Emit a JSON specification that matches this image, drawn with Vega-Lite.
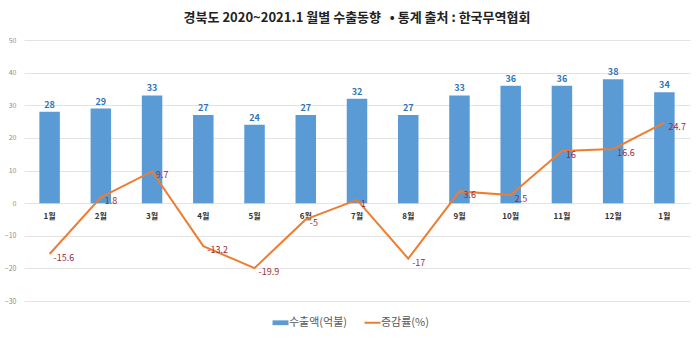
{
  "$schema": "https://vega.github.io/schema/vega-lite/v6.json",
  "width": 699,
  "height": 358,
  "autosize": {"type": "fit", "contains": "padding"},
  "padding": {"left": 4, "right": 9, "top": 12, "bottom": 54},
  "background": "white",
  "config": {
    "font": "Noto Sans CJK KR",
    "view": {"stroke": null},
    "axisY": {
      "title": null,
      "labelOverlap": false,
      "domain": false,
      "ticks": false,
      "labelFontSize": 7,
      "labelColor": "#8c8c8c",
      "labelPadding": 8,
      "gridColor": "#e3e3e3",
      "gridWidth": 1
    }
  },
  "title": {
    "text": "경북도 2020~2021.1 월별 수출동향\u00a0\u00a0\u00a0• 통계 출처 : 한국무역협회",
    "fontSize": 13,
    "fontWeight": "bold",
    "color": "#222222",
    "anchor": "middle",
    "offset": 11
  },
  "data": {
    "values": [
      {"key": "2020-01", "month": "1월", "exports": 28, "change": -15.6},
      {"key": "2020-02", "month": "2월", "exports": 29, "change": 1.8},
      {"key": "2020-03", "month": "3월", "exports": 33, "change": 9.7},
      {"key": "2020-04", "month": "4월", "exports": 27, "change": -13.2},
      {"key": "2020-05", "month": "5월", "exports": 24, "change": -19.9},
      {"key": "2020-06", "month": "6월", "exports": 27, "change": -5},
      {"key": "2020-07", "month": "7월", "exports": 32, "change": 1},
      {"key": "2020-08", "month": "8월", "exports": 27, "change": -17},
      {"key": "2020-09", "month": "9월", "exports": 33, "change": 3.6},
      {"key": "2020-10", "month": "10월", "exports": 36, "change": 2.5},
      {"key": "2020-11", "month": "11월", "exports": 36, "change": 16},
      {"key": "2020-12", "month": "12월", "exports": 38, "change": 16.6},
      {"key": "2021-01", "month": "1월", "exports": 34, "change": 24.7}
    ]
  },
  "encoding": {
    "x": {
      "field": "key",
      "type": "nominal",
      "sort": null,
      "scale": {"paddingInner": 0.6, "paddingOuter": 0.3},
      "axis": null
    }
  },
  "layer": [
    {
      "mark": {"type": "bar"},
      "encoding": {
        "y": {
          "field": "exports",
          "type": "quantitative",
          "scale": {"domain": [-30, 50], "nice": false, "zero": false},
          "axis": {"values": [-30, -20, -10, 0, 10, 20, 30, 40, 50]}
        },
        "y2": {"datum": 0},
        "color": {
          "datum": "수출액(억불)",
          "type": "nominal",
          "scale": {"domain": ["수출액(억불)", "증감률(%)"], "range": ["#5B9BD5", "#ED7D31"]},
          "legend": {
            "orient": "none",
            "legendX": 251,
            "legendY": 277,
            "direction": "horizontal",
            "title": null,
            "labelFontSize": 11,
            "labelColor": "#595959",
            "columnPadding": 12,
            "symbolSize": 256,
            "labelOffset": 3,
            "encode": {
              "symbols": {
                "update": {
                  "shape": {"signal": "datum.label == '증감률(%)' ? 'M-1,0H1' : 'M-1,-0.3H1V0.3H-1Z'"},
                  "fill": {"signal": "datum.label == '증감률(%)' ? 'transparent' : '#5B9BD5'"},
                  "stroke": {"signal": "datum.label == '증감률(%)' ? '#ED7D31' : '#5B9BD5'"},
                  "strokeWidth": {"signal": "datum.label == '증감률(%)' ? 2 : 0"},
                  "opacity": {"value": 1}
                }
              }
            }
          }
        }
      }
    },
    {
      "mark": {"type": "text", "fontSize": 9, "fontWeight": "bold", "color": "#2E75B6", "dy": -7},
      "encoding": {
        "y": {"field": "exports", "type": "quantitative", "axis": {"values": [-30, -20, -10, 0, 10, 20, 30, 40, 50]}},
        "text": {"field": "exports", "type": "quantitative"}
      }
    },
    {
      "mark": {"type": "text", "fontSize": 8, "fontWeight": "bold", "color": "#333333", "dy": 14},
      "encoding": {
        "y": {"datum": 0, "axis": {"values": [-30, -20, -10, 0, 10, 20, 30, 40, 50]}},
        "text": {"field": "month", "type": "nominal"}
      }
    },
    {
      "mark": {"type": "line", "strokeWidth": 2, "color": "#ED7D31"},
      "encoding": {
        "y": {"field": "change", "type": "quantitative", "axis": {"values": [-30, -20, -10, 0, 10, 20, 30, 40, 50]}},
        "color": {"datum": "증감률(%)", "type": "nominal"}
      }
    },
    {
      "mark": {"type": "text", "fontSize": 9, "color": "#9C2A3A", "align": "left", "dx": 4, "dy": 4},
      "encoding": {
        "y": {"field": "change", "type": "quantitative", "axis": {"values": [-30, -20, -10, 0, 10, 20, 30, 40, 50]}},
        "text": {"field": "change", "type": "nominal"}
      }
    }
  ]
}
